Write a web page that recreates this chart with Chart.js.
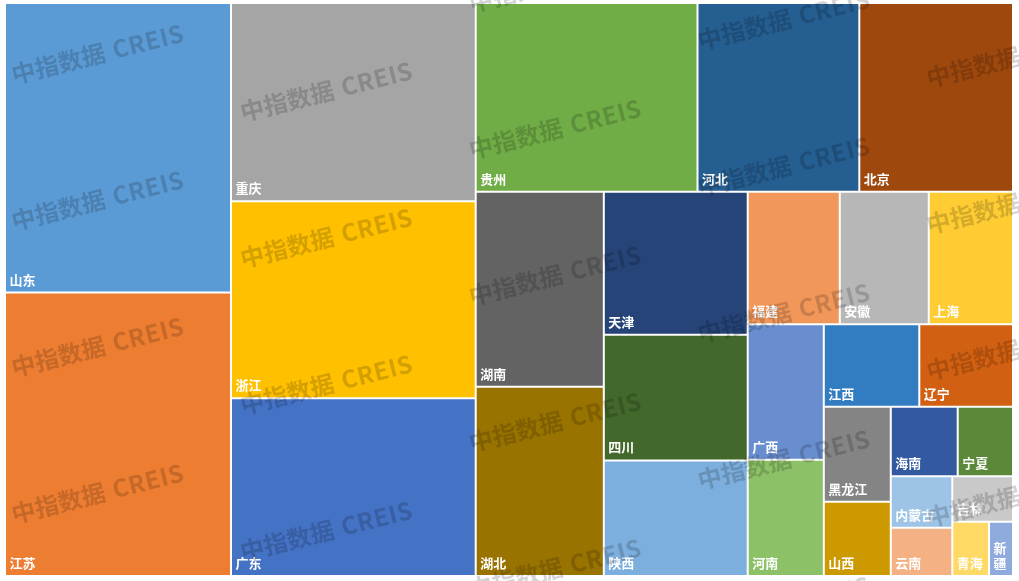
<!DOCTYPE html>
<html>
<head>
<meta charset="utf-8">
<script src="https://cdn.jsdelivr.net/npm/chart.js@4.4.1/dist/chart.umd.min.js"></script>
<style>
  html, body { margin: 0; padding: 0; background: #ffffff; }
  #wrap { position: relative; width: 1019px; height: 581px; }
</style>
</head>
<body>
<div id="wrap"><canvas id="chart"></canvas></div>
<script>
// Provinces, largest first, and their values
const provinces = ['山东', '江苏', '重庆', '浙江', '广东', '贵州', '河北', '北京', '湖南', '湖北',
  '天津', '四川', '陕西', '福建', '安徽', '上海', '广西', '河南', '江西', '辽宁',
  '黑龙江', '山西', '海南', '宁夏', '内蒙古', '云南', '吉林', '青海', '新疆'];
const values = [654.3, 640.7, 485.0, 482.3, 434.8, 418.5, 305.3, 290.0, 249.8, 242.5,
  205.8, 181.0, 166.2, 122.1, 118.0, 111.7, 103.1, 88.4, 78.7, 77.2,
  63.7, 49.7, 46.6, 38.5, 31.6, 29.7, 27.6, 19.9, 13.0];

// Office-style series palette
const palette = ['#5B9BD5', '#ED7D31', '#A5A5A5', '#FFC000', '#4472C4', '#70AD47',
  '#255E91', '#9E480E', '#636363', '#997300', '#264478', '#43682B',
  '#7CAFDD', '#F1975A', '#B7B7B7', '#FFCD33', '#698ED0', '#8CC168',
  '#327DC2', '#D26012', '#848484', '#CC9A00', '#335AA1', '#5A8A39',
  '#9DC3E6', '#F4B183', '#C9C9C9', '#FFD966', '#8FAADC'];

const watermarkCn = '中指数据';
const watermarkEn = 'CREIS';

// Preferred height/width ratio of a cell when deciding how long a strip gets
const CELL_TALLNESS = 1.1075;

// Squarified layout: strips are laid along the shorter side of the free area
function squarify(vals, W, H, tall) {
  const total = vals.reduce((a, b) => a + b, 0);
  const k = W * H / total;
  const areas = vals.map(v => v * k);
  const out = new Array(vals.length);
  const score = a => Math.max(a / tall, tall / a);
  let x = 0, y = 0, w = W, h = H, i = 0;
  while (i < areas.length) {
    const column = w >= h;
    const side = column ? h : w;
    let j = i, sum = 0, best = Infinity;
    while (j < areas.length) {
      const s = sum + areas[j];
      const t = s / side;
      let worst = 0;
      for (let m = i; m <= j; m++) {
        const len = areas[m] / t;
        const a = column ? len / t : t / len;
        worst = Math.max(worst, score(a));
      }
      if (worst > best) break;
      best = worst; sum = s; j++;
    }
    const t = sum / side;
    let off = 0;
    for (let m = i; m < j; m++) {
      const len = areas[m] / t;
      out[m] = column
        ? { x0: x, y0: y + off, x1: x + t, y1: y + off + len }
        : { x0: x + off, y0: y, x1: x + off + len, y1: y + t };
      off += len;
    }
    if (column) { x += t; w -= t; } else { y += t; h -= t; }
    i = j;
  }
  return out;
}

// Treemap controller drawing each cell as a bar element
class TreemapController extends Chart.DatasetController {
  update(mode) {
    const meta = this._cachedMeta;
    this.updateElements(meta.data, 0, meta.data.length, mode);
  }
  updateElements(cells, start, count, mode) {
    const meta = this._cachedMeta;
    const xs = meta.xScale, ys = meta.yScale;
    const ds = this.getDataset();
    const W = Math.abs(xs.getPixelForValue(1) - xs.getPixelForValue(0));
    const H = Math.abs(ys.getPixelForValue(1) - ys.getPixelForValue(0));
    const rects = squarify(ds.data, W, H, CELL_TALLNESS);
    for (let i = start; i < start + count; i++) {
      const r = rects[i];
      const left = xs.getPixelForValue(r.x0 / W);
      const right = xs.getPixelForValue(r.x1 / W);
      const top = ys.getPixelForValue(r.y0 / H);
      const bottom = ys.getPixelForValue(r.y1 / H);
      this.updateElement(cells[i], i, {
        x: (left + right) / 2,
        y: top,
        base: bottom,
        width: right - left,
        height: bottom - top,
        horizontal: false,
        inflateAmount: 0,
        borderSkipped: {},
        options: this.resolveDataElementOptions(i, mode)
      }, mode);
    }
  }
  getLabelAndValue(index) {
    return { label: this.chart.data.labels[index], value: String(this.getDataset().data[index]) };
  }
}
TreemapController.id = 'treemap';
TreemapController.defaults = { datasetElementType: false, dataElementType: 'bar' };
Chart.register(TreemapController);

function wrapLabel(ctx, text, maxW) {
  if (ctx.measureText(text).width <= maxW) return [text];
  const lines = [];
  let cur = '';
  for (const ch of text) {
    if (cur && ctx.measureText(cur + ch).width > maxW) { lines.push(cur); cur = ch; }
    else cur += ch;
  }
  if (cur) lines.push(cur);
  return lines;
}

// Province names in the lower-left corner of each cell
const cellLabels = {
  id: 'cellLabels',
  afterDatasetsDraw(chart) {
    const ctx = chart.ctx;
    const meta = chart.getDatasetMeta(0);
    ctx.save();
    ctx.font = 'bold 13px "Noto Sans CJK SC", sans-serif';
    ctx.fillStyle = '#ffffff';
    ctx.textBaseline = 'alphabetic';
    ctx.textAlign = 'left';
    meta.data.forEach((el, i) => {
      const { x, base, width } = el.getProps(['x', 'base', 'width'], true);
      const left = x - width / 2;
      const lines = wrapLabel(ctx, chart.data.labels[i], width - 8);
      let by = base - 8;
      for (let k = lines.length - 1; k >= 0; k--) {
        ctx.fillText(lines[k], left + 4.5, by);
        by -= 15;
      }
    });
    ctx.restore();
  }
};

// Repeating tilted watermark over the whole canvas
const watermark = {
  id: 'watermark',
  afterDraw(chart) {
    const ctx = chart.ctx;
    ctx.save();
    ctx.fillStyle = 'rgba(0, 0, 0, 0.17)';
    ctx.textBaseline = 'alphabetic';
    for (let col = 0; col < 5; col++) {
      for (let row = -2; row < 5; row++) {
        const wx = 14 + 228.75 * col;
        const wy = 84 + 37.5 * col + 146.5 * row;
        if (wy < -60 || wy > 700) continue;
        ctx.save();
        ctx.translate(wx, wy);
        ctx.rotate(-14 * Math.PI / 180);
        ctx.font = 'bold 24px "Noto Sans CJK SC", sans-serif';
        ctx.letterSpacing = '0px';
        ctx.fillText(watermarkCn, 0, 0);
        const cnW = ctx.measureText(watermarkCn).width;
        ctx.letterSpacing = '0.6px';
        ctx.fillText(watermarkEn, cnW + 8, 0);
        ctx.restore();
      }
    }
    ctx.restore();
  }
};

new Chart(document.getElementById('chart'), {
  type: 'treemap',
  data: {
    labels: provinces,
    datasets: [{
      data: values,
      backgroundColor: palette,
      borderColor: '#ffffff',
      borderWidth: 1
    }]
  },
  options: {
    responsive: true,
    maintainAspectRatio: false,
    animation: false,
    events: [],
    layout: { padding: { left: 5, top: 3, right: 6, bottom: 5 } },
    scales: {
      x: { type: 'linear', min: 0, max: 1, display: false },
      y: { type: 'linear', min: 0, max: 1, reverse: true, display: false }
    },
    plugins: {
      legend: { display: false },
      tooltip: { enabled: false }
    }
  },
  plugins: [cellLabels, watermark]
});
</script>
</body>
</html>
